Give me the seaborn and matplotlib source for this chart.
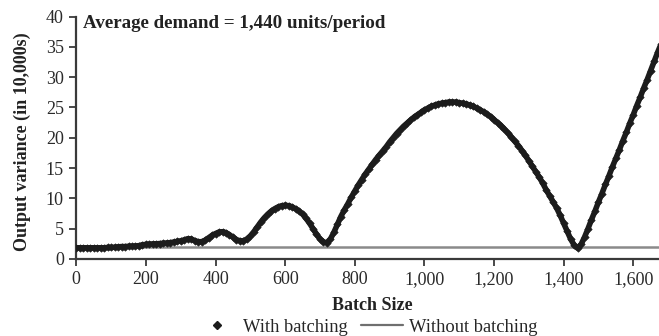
import numpy as np
import pandas as pd
import matplotlib
matplotlib.use("Agg")
import matplotlib.pyplot as plt
from matplotlib.lines import Line2D
from matplotlib.ticker import FuncFormatter
import seaborn as sns

# Batch sizes evaluated (units) and resulting output variance (in 10,000s)
batch_size = np.arange(0, 1681, 10)
variance_with_batching = [
    1.85, 1.85, 1.85, 1.85, 1.85, 1.85, 1.85, 1.85, 1.85, 1.90,   # 0-90
    1.90, 1.95, 2.00, 2.05, 2.05, 2.10, 2.10, 2.15, 2.20, 2.35,   # 100-190
    2.40, 2.45, 2.50, 2.50, 2.55, 2.60, 2.65, 2.70, 2.80, 2.90,   # 200-290
    3.00, 3.15, 3.35, 3.30, 3.05, 2.85, 2.85, 3.10, 3.50, 3.90,   # 300-390
    4.20, 4.45, 4.50, 4.35, 4.00, 3.60, 3.20, 3.00, 3.00, 3.30,   # 400-490
    3.80, 4.50, 5.30, 6.10, 6.80, 7.40, 7.90, 8.30, 8.60, 8.80,   # 500-590
    8.85, 8.80, 8.60, 8.30, 7.90, 7.40, 6.70, 5.90, 5.00, 4.10,   # 600-690
    3.30, 2.80, 2.70, 3.30, 4.40, 5.70, 7.00, 8.10, 9.10, 10.2,   # 700-790
    11.2, 12.2, 13.1, 14.0, 14.8, 15.6, 16.4, 17.1, 17.8, 18.5,   # 800-890
    19.3, 20.0, 20.7, 21.3, 21.9, 22.4, 22.9, 23.4, 23.8, 24.2,   # 900-990
    24.6, 24.9, 25.2, 25.4, 25.6, 25.7, 25.8, 25.9, 25.9, 25.9,   # 1000-1090
    25.8, 25.7, 25.6, 25.4, 25.2, 24.9, 24.6, 24.3, 23.9, 23.5,   # 1100-1190
    23.0, 22.5, 22.0, 21.4, 20.8, 20.1, 19.4, 18.7, 17.9, 17.1,   # 1200-1290
    16.2, 15.3, 14.4, 13.5, 12.5, 11.4, 10.4, 9.40, 8.40, 7.20,   # 1300-1390
    5.90, 4.60, 3.30, 2.30, 1.80, 2.40, 3.60, 5.00, 6.50, 7.90,   # 1400-1490
    9.40, 10.8, 12.3, 13.7, 15.2, 16.6, 18.0, 19.5, 20.9, 22.4,   # 1500-1590
    23.8, 25.3, 26.7, 28.2, 29.6, 31.1, 32.6, 34.1, 35.5,         # 1600-1680
]
variance_without_batching = 2.0

x_ticks = [0, 200, 400, 600, 800, 1000, 1200, 1400, 1600]
y_ticks = [0, 5, 10, 15, 20, 25, 30, 35, 40]
series_labels = ["With batching", "Without batching"]
note = "Average demand = 1,440 units/period"

sns.set_style("ticks")
plt.rcParams["font.family"] = ["Liberation Serif", "DejaVu Serif"]

ink = "#1c1c1c"
axis_col = "#3a3a3a"
flat_col = "#8a8a8a"

fig = plt.figure(figsize=(6.59, 3.36), dpi=100)
ax = fig.add_axes([0.1158, 0.2292, 0.8874, 0.7214])

df = pd.DataFrame({"batch": batch_size, "variance": variance_with_batching})
ax.axhline(variance_without_batching, color=flat_col, lw=1.8, zorder=2)
sns.lineplot(data=df, x="batch", y="variance", color=ink, lw=4.0,
             ax=ax, legend=False, zorder=3)
sns.scatterplot(data=df, x="batch", y="variance", marker="D", s=14,
                color=ink, edgecolor=ink, linewidth=0.5,
                ax=ax, legend=False, zorder=4)

ax.set_xlim(0, 1680)
ax.set_ylim(0, 40)
ax.set_xticks(x_ticks)
ax.set_yticks(y_ticks)
ax.xaxis.set_major_formatter(FuncFormatter(lambda v, p: f"{int(v):,}"))

for side in ("top", "right"):
    ax.spines[side].set_visible(False)
for side in ("left", "bottom"):
    ax.spines[side].set_color(axis_col)
    ax.spines[side].set_linewidth(1.6)
ax.tick_params(axis="both", direction="out", length=5, width=1.3,
               color=axis_col, labelsize=13, labelcolor="#2a2a2a", pad=4)

ax.set_xlabel("Batch Size", fontsize=13, fontweight="bold", color="#222222")
ax.xaxis.set_label_coords(0.507, -0.157)
ax.set_ylabel("Output variance (in 10,000s)", fontsize=13,
              fontweight="bold", color="#222222")
ax.yaxis.set_label_coords(-0.092, 0.485)
ax.yaxis.label.set_verticalalignment("center")

ax.text(19, 38.9, note, fontsize=13.7, fontweight="bold",
        va="center", ha="left", color="#222222")

handles = [
    Line2D([], [], marker="D", ls="none", color=ink, markersize=4),
    Line2D([], [], color="#6f6f6f", lw=1.6),
]
fig.legend(handles, series_labels, loc="center", bbox_to_anchor=(0.556, 0.026),
           ncol=2, frameon=False, fontsize=13.3, handlelength=2.3,
           handletextpad=0.3, columnspacing=0.7, borderaxespad=0)

fig.savefig("out.png", dpi=100)
